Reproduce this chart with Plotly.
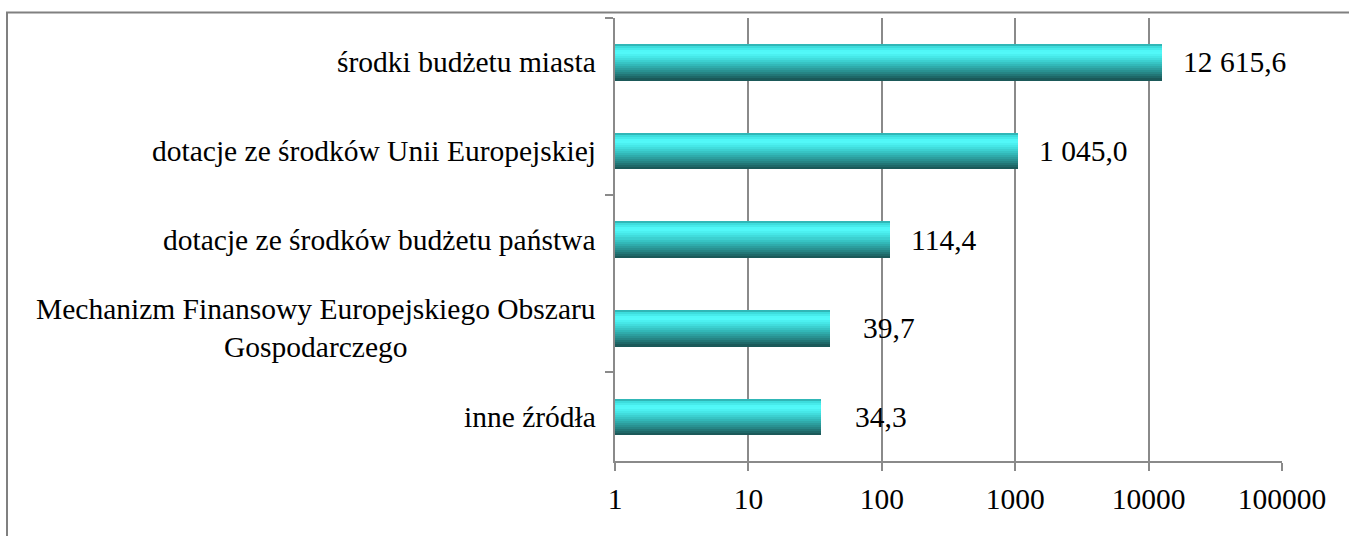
import math
import plotly.graph_objects as go

categories = [
    "środki budżetu miasta",
    "dotacje ze środków Unii Europejskiej",
    "dotacje ze środków budżetu państwa",
    "Mechanizm Finansowy Europejskiego Obszaru<br>Gospodarczego",
    "inne źródła",
]
values = [12615.6, 1045.0, 114.4, 39.7, 34.3]
tick_values = [1, 10, 100, 1000, 10000, 100000]
tick_labels = ["1", "10", "100", "1000", "10000", "100000"]


def pl_format(v):
    s = f"{v:,.1f}"
    return s.replace(",", " ").replace(".", ",")


# cylinder-like gradient, from top edge to bottom edge
stops = [
    (0.00, (0x2a, 0xa4, 0xa4)),
    (0.08, (0x3c, 0xdc, 0xdc)),
    (0.22, (0x55, 0xfd, 0xfd)),
    (0.38, (0x44, 0xe4, 0xe4)),
    (0.60, (0x31, 0xb4, 0xb4)),
    (0.80, (0x26, 0x86, 0x86)),
    (1.00, (0x19, 0x52, 0x52)),
]


def grad(t):
    for (t0, c0), (t1, c1) in zip(stops[:-1], stops[1:]):
        if t0 <= t <= t1:
            f = (t - t0) / (t1 - t0) if t1 > t0 else 0
            c = [round(a + (b - a) * f) for a, b in zip(c0, c1)]
            return "rgb({},{},{})".format(*c)
    return "rgb({},{},{})".format(*stops[-1][1])


ypos = list(range(len(categories)))
bw = 0.41
N = 18
fig = go.Figure()
for i in range(N):
    fig.add_trace(go.Bar(
        y=ypos, x=values, base=[1] * len(values), orientation="h",
        width=bw / N * 1.15, offset=-bw / 2 + i * bw / N,
        marker=dict(color=grad((i + 0.5) / N), line=dict(width=0)),
        hoverinfo="skip", showlegend=False,
    ))

font_family = "Liberation Serif"
fsize = 29.5

# data labels
for y, v in zip(ypos, values):
    fig.add_annotation(
        x=math.log10(v), y=y, xref="x", yref="y",
        text=pl_format(v), showarrow=False, xanchor="left",
        xshift=33 if v < 100 else 19,
        font=dict(family=font_family, size=fsize, color="black"),
    )

# category labels
for y, c in zip(ypos, categories):
    fig.add_annotation(
        x=0, y=y, xref="paper", yref="y", text=c, showarrow=False,
        xanchor="right", align="center", xshift=-17,
        font=dict(family=font_family, size=fsize, color="black"),
    )

# outer chart border (right/bottom edges lie outside the picture)
fig.add_shape(type="rect", xref="paper", yref="paper",
              x0=(7 - 615) / 667, x1=(1400 - 615) / 667,
              y0=(461 - 600) / 443, y1=(461 - 12.5) / 443,
              line=dict(color="#808080", width=2), layer="above")

fig.update_layout(
    width=1349, height=536,
    margin=dict(l=615, r=67, t=18, b=75),
    paper_bgcolor="white", plot_bgcolor="white",
    barmode="overlay", bargap=0,
    font=dict(family=font_family, size=fsize, color="black"),
    xaxis=dict(
        type="log", range=[0, 5], tickvals=tick_values, ticktext=tick_labels,
        showgrid=True, gridcolor="#8a8a8a", gridwidth=2,
        showline=True, linecolor="#8a8a8a", linewidth=2,
        ticks="outside", ticklen=8, tickwidth=2, tickcolor="#8a8a8a",
        ticklabelstandoff=3, zeroline=False,
        tickfont=dict(family=font_family, size=fsize, color="black"),
    ),
    yaxis=dict(
        range=[4.5, -0.5], showticklabels=False, showgrid=False,
        zeroline=False, showline=True, linecolor="#8a8a8a", linewidth=2,
        ticks="outside", ticklen=8, tickwidth=2, tickcolor="#8a8a8a",
        tickvals=[-0.5, 1.5, 3.5],
    ),
)

fig.write_html("out.html", config={"displayModeBar": False},
               post_script="document.body.style.margin='0';")
